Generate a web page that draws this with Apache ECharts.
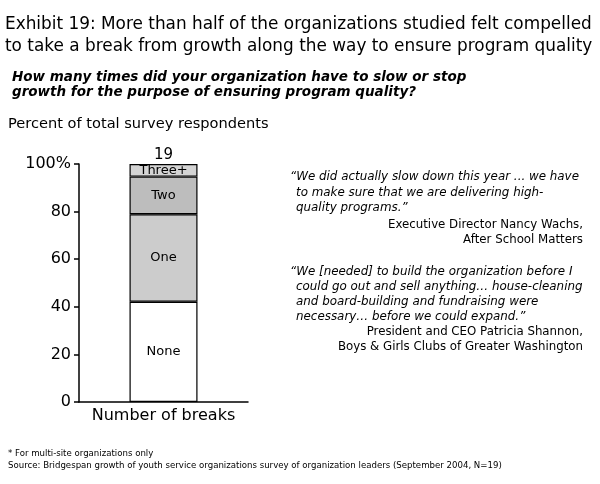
<!DOCTYPE html>
<html>
<head>
<meta charset="utf-8">
<script src="https://cdn.jsdelivr.net/npm/echarts@6/dist/echarts.min.js"></script>
<style>html,body{margin:0;padding:0;background:#fff;}#c{width:600px;height:484px;}</style>
</head>
<body>
<div id="c"></div>
<script>
const categories = ['Number of breaks'];
const seriesNames = ['None', 'One', 'Two', 'Three+'];
const noneVals = [42.1];
const oneVals = [36.8];
const twoVals = [15.8];
const threeVals = [5.3];
const totalN = [19];
const yTicks = [0, 20, 40, 60, 80, 100];

const F = 'DejaVu Sans, Verdana, sans-serif';
const colors = ['#ffffff', '#cccccc', '#bdbdbd', '#d4d4d4'];
const vals = [noneVals, oneVals, twoVals, threeVals];

const chart = echarts.init(document.getElementById('c'));
const series = seriesNames.map((n, i) => ({
  name: n, type: 'bar', stack: 'a', barWidth: 68,
  data: vals[i],
  itemStyle: { color: colors[i], borderColor: '#000', borderWidth: 1.2 },
  label: { show: true, position: 'inside', formatter: n, color: '#000', fontFamily: F, fontSize: 13 },
  silent: true
}));
series.push({
  type: 'bar', stack: 'a', barWidth: 68, data: totalN.map(() => 0),
  itemStyle: { color: 'transparent' },
  label: { show: true, position: 'top', formatter: () => String(totalN[0]), color: '#000', fontFamily: F, fontSize: 15, distance: 1 },
  silent: true
});

const q = { fontFamily: F, fontSize: 11.9, fontStyle: 'italic', fill: '#000' };
const a = { fontFamily: F, fontSize: 11.8, fill: '#000', textAlign: 'right' };
function txt(x, y, text, style) {
  return { type: 'text', x: x, y: y, style: Object.assign({ text: text, textVerticalAlign: 'middle' }, style) };
}
const T = { fontFamily: F, fontSize: 16.9, fill: '#000' };
const S = { fontFamily: F, fontSize: 13.5, fontStyle: 'italic', fontWeight: 'bold', fill: '#000' };
const N = { fontFamily: F, fontSize: 8.6, fill: '#000' };

chart.setOption({
  animation: false,
  grid: { left: 79, right: 352, top: 164, bottom: 82 },
  xAxis: {
    type: 'category', data: categories,
    axisLine: { lineStyle: { color: '#000', width: 1.5 } },
    axisTick: { show: false },
    axisLabel: { color: '#000', fontFamily: F, fontSize: 16, margin: 6 }
  },
  yAxis: {
    type: 'value', min: 0, max: 100, interval: 20,
    axisLine: { show: true, lineStyle: { color: '#000', width: 1.5 } },
    axisTick: { show: true, length: 5, lineStyle: { color: '#000', width: 1.5 } },
    splitLine: { show: false },
    axisLabel: { color: '#000', fontFamily: F, fontSize: 16, margin: 8,
      formatter: v => yTicks.includes(v) ? (v === 100 ? '100%' : String(v)) : '' }
  },
  series: series,
  graphic: [
    txt(5, 25, 'Exhibit 19: More than half of the organizations studied felt compelled', T),
    txt(5, 47, 'to take a break from growth along the way to ensure program quality', T),
    txt(12, 77, 'How many times did your organization have to slow or stop', S),
    txt(12, 92, 'growth for the purpose of ensuring program quality?', S),
    txt(8, 124, 'Percent of total survey respondents', { fontFamily: F, fontSize: 14.6, fill: '#000' }),
    txt(290, 177, '\u201CWe did actually slow down this year ... we have', q),
    txt(296, 193, 'to make sure that we are delivering high-', q),
    txt(296, 208, 'quality programs.\u201D', q),
    txt(583, 225, 'Executive Director Nancy Wachs,', a),
    txt(583, 240, 'After School Matters', a),
    txt(290, 272, '\u201CWe [needed] to build the organization before I', q),
    txt(296, 287, 'could go out and sell anything\u2026 house-cleaning', q),
    txt(296, 302, 'and board-building and fundraising were', q),
    txt(296, 317, 'necessary\u2026 before we could expand.\u201D', q),
    txt(583, 332, 'President and CEO Patricia Shannon,', a),
    txt(583, 347, 'Boys & Girls Clubs of Greater Washington', a),
    txt(8, 454, '* For multi-site organizations only', N),
    txt(8, 466, 'Source: Bridgespan growth of youth service organizations survey of organization leaders (September 2004, N=19)', N)
  ]
});
</script>
</body>
</html>
